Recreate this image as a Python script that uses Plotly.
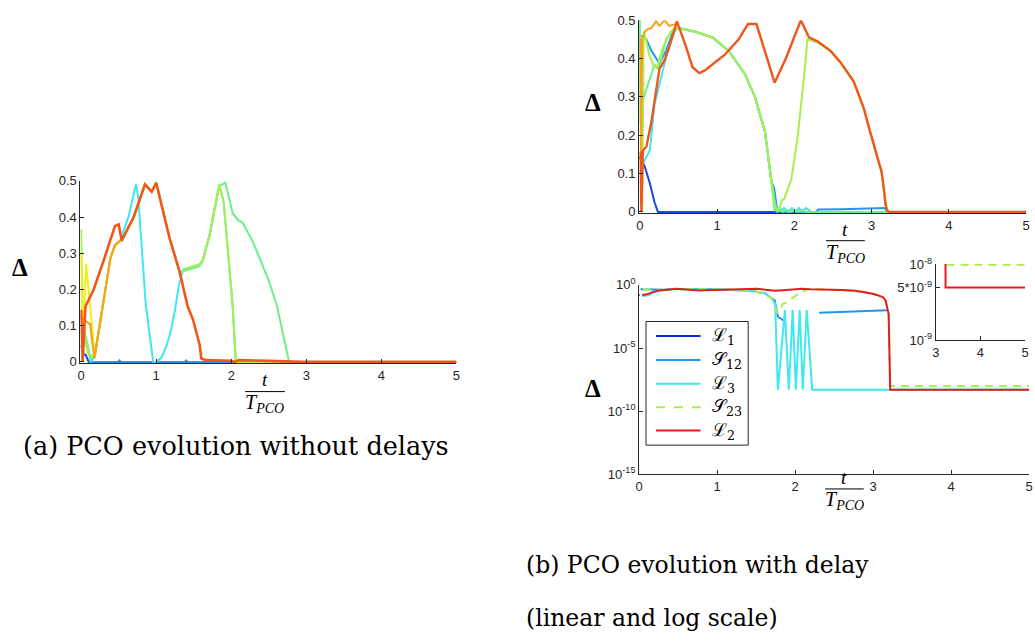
import plotly.graph_objects as go

W, H = 1035, 642

# ---------------- (a) PCO evolution without delays ----------------
a_blue_x = [0, 0.035, 0.06, 0.1, 5]
a_blue_y = [0.046, 0.02, 0.02, 0.0, 0.0]
a_azure_x = [0.1, 0.49, 0.51, 0.53, 1.38, 1.40, 1.42, 2.08, 2.10, 2.12, 5]
a_azure_y = [0.0, 0.0, 0.004, 0.0, 0.0, 0.004, 0.0, 0.0, 0.004, 0.0, 0.0]
a_cyan_x = [0, 0.08, 0.13, 0.18, 0.3, 0.39, 0.45, 0.52, 0.63, 0.7, 0.73, 0.76, 0.8, 0.86, 0.96, 1.0,
            1.07, 1.14, 1.2, 1.25, 1.3, 1.36, 1.44, 1.58, 1.62, 1.71, 1.84, 1.9, 2.02, 2.06, 5]
a_cyan_y = [0.126, 0.046, 0.0, 0.015, 0.17, 0.287, 0.322, 0.335, 0.40, 0.46, 0.49, 0.455, 0.33, 0.16, 0.0, 0.0,
            0.012, 0.046, 0.09, 0.144, 0.21, 0.255, 0.26, 0.27, 0.28, 0.35, 0.49, 0.44, 0.15, 0.0, 0.0]
a_spring_x = [0, 0.05, 0.12, 0.18, 0.3, 0.39, 0.45, 0.52, 0.54, 0.7, 0.85, 0.94, 1.0, 1.18, 1.31, 1.36, 1.44,
              1.58, 1.62, 1.71, 1.84, 1.92, 2.02, 2.1, 2.15, 2.28, 2.41, 2.5, 2.61, 2.7, 2.77, 5]
a_spring_y = [0.13, 0.08, 0.01, 0.015, 0.17, 0.287, 0.322, 0.335, 0.335, 0.4, 0.49, 0.47, 0.497, 0.34, 0.25, 0.25, 0.255,
              0.265, 0.28, 0.35, 0.485, 0.495, 0.41, 0.39, 0.385, 0.335, 0.27, 0.224, 0.153, 0.064, 0.0, 0.0]
a_ygreen_x = [0, 0.02, 0.06, 0.1, 0.18, 0.3, 0.39, 0.45, 0.52, 0.54, 0.7, 0.85, 0.94, 1.0, 1.18, 1.31, 1.36, 1.44,
              1.58, 1.62, 1.71, 1.84, 1.9, 2.02, 2.06, 5]
a_ygreen_y = [0.366, 0.15, 0.05, 0.02, 0.015, 0.17, 0.287, 0.322, 0.335, 0.335, 0.4, 0.49, 0.47, 0.497, 0.34, 0.25, 0.25, 0.26,
              0.27, 0.28, 0.35, 0.49, 0.44, 0.15, 0.0, 0.0]
a_yellow_x = [0, 0.02, 0.066, 0.1, 0.15, 0.18, 0.3, 0.39, 0.45, 0.52]
a_yellow_y = [0.30, 0.035, 0.27, 0.2, 0.09, 0.015, 0.17, 0.287, 0.322, 0.335]
a_orange_x = [0, 0.035, 0.12, 0.176, 0.3, 0.39, 0.45, 0.52, 0.54]
a_orange_y = [0.12, 0.117, 0.104, 0.01, 0.17, 0.287, 0.322, 0.335, 0.335]
a_red_x = [0, 0.02, 0.057, 0.167, 0.3, 0.45, 0.5, 0.54, 0.7, 0.85, 0.94, 1.0, 1.18, 1.31, 1.42, 1.49, 1.58,
           1.6, 1.66, 2.0, 2.05, 2.1, 2.5, 2.94, 5]
a_red_y = [0.144, 0.0, 0.153, 0.2, 0.28, 0.375, 0.38, 0.335, 0.4, 0.49, 0.47, 0.494, 0.34, 0.25, 0.153, 0.117, 0.046,
           0.01, 0.005, 0.003, 0.0, 0.005, 0.003, 0.0, 0.0]

# ---------------- (b) PCO evolution with delay ----------------
L1_x = [0.0, 0.064, 0.128, 0.19, 0.234, 0.26, 5]
L1_y = [0.143, 0.118, 0.076, 0.025, 0.0, 0.0, 0.0]
S12_x = [0.02, 0.085, 0.15, 0.21, 0.255, 0.34, 0.43, 0.5, 0.72, 0.94, 1.15, 1.36, 1.49, 1.62, 1.7, 1.74, 1.78,
         1.86, 1.87, 2.28, 2.31, 2.6, 2.9, 3.18, 3.19, 5]
S12_y = [0.46, 0.45, 0.42, 0.40, 0.387, 0.42, 0.47, 0.48, 0.47, 0.455, 0.42, 0.36, 0.30, 0.21, 0.084, 0.06, 0.003,
         0.0014, 0.0, 0.0, 0.0063, 0.0072, 0.0085, 0.01, 0.0, 0.0]
L3_x = [0.04, 0.13, 0.19, 0.28, 0.36, 0.47, 0.72, 0.94, 1.15, 1.36, 1.49, 1.62, 1.7, 1.745, 1.78, 1.87, 1.92,
        1.97, 2.01, 2.06, 2.10, 2.15, 2.22, 5]
L3_y = [0.126, 0.16, 0.28, 0.354, 0.42, 0.48, 0.47, 0.455, 0.42, 0.36, 0.30, 0.21, 0.084, 0.03, 5e-9, 0.01, 5e-9,
        0.01, 5e-9, 0.01, 5e-9, 0.01, 5e-9, 5e-9]
S23_x = [0.03, 0.05, 0.08, 0.12, 0.17, 0.22, 0.3, 0.4, 0.5, 0.72, 0.94, 1.15, 1.36, 1.49, 1.62, 1.7, 1.745, 1.77,
         1.81, 1.84, 1.87, 1.96, 2.04, 2.13, 2.17, 2.3, 2.47, 2.6, 2.77, 2.9, 2.98, 3.05, 3.13, 3.16, 3.2, 3.22, 5]
S23_y = [0.0, 0.47, 0.45, 0.41, 0.385, 0.375, 0.43, 0.47, 0.48, 0.47, 0.455, 0.42, 0.36, 0.30, 0.21, 0.084, 0.02, 0.0055,
         0.01, 0.03, 0.034, 0.084, 0.19, 0.36, 0.45, 0.442, 0.418, 0.388, 0.338, 0.268, 0.208, 0.158, 0.1, 0.055, 0.008, 1e-8, 1e-8]
L2_x = [0, 0.01, 0.02, 0.04, 0.085, 0.15, 0.21, 0.255, 0.32, 0.38, 0.48, 0.6, 0.68, 0.77, 0.85, 0.98, 1.1, 1.28,
        1.4, 1.51, 1.62, 1.745, 1.89, 2.085, 2.19, 2.3, 2.47, 2.6, 2.77, 2.9, 2.98, 3.05, 3.13, 3.16, 3.18, 3.2, 3.22, 5]
L2_y = [0.156, 0.155, 0.0, 0.16, 0.17, 0.235, 0.315, 0.374, 0.395, 0.43, 0.497, 0.43, 0.378, 0.362, 0.37, 0.39, 0.41, 0.45,
        0.49, 0.49, 0.42, 0.337, 0.4, 0.5, 0.455, 0.445, 0.42, 0.39, 0.34, 0.27, 0.21, 0.16, 0.105, 0.06, 0.02, 0.005, 5e-9, 5e-9]
b_spring_x = [0.0, 0.01, 0.02, 0.1, 0.19, 0.234, 0.28, 0.34, 0.45, 0.72, 0.94, 1.15, 1.36, 1.49, 1.62, 1.7, 1.745,
              1.8, 1.85, 1.9, 1.95, 2.0, 2.05, 2.1, 2.15, 2.2, 5]
b_spring_y = [0.5, 0.23, 0.28, 0.33, 0.384, 0.375, 0.4, 0.45, 0.48, 0.47, 0.455, 0.42, 0.36, 0.30, 0.21, 0.084, 0.004,
              0.005, 0.0, 0.005, 0.0, 0.005, 0.0, 0.005, 0.0, 0.0, 0.0]
b_orange_x = [0.0, 0.012, 0.015, 0.03, 0.064, 0.1, 0.15, 0.21, 0.255, 0.32, 0.38, 0.47, 0.48]
b_orange_y = [0.45, 0.45, 0.15, 0.45, 0.47, 0.476, 0.48, 0.497, 0.485, 0.5, 0.485, 0.49, 0.497]

legend_names = ["ℒ<sub>1</sub>", "𝒮<sub>12</sub>", "ℒ<sub>3</sub>", "𝒮<sub>23</sub>", "ℒ<sub>2</sub>"]

x_ticks = [0, 1, 2, 3, 4, 5]
lin_ticks = [0, 0.1, 0.2, 0.3, 0.4, 0.5]
lin_ticktext = ["0", "0.1", "0.2", "0.3", "0.4", "0.5"]
log_ticks = [1, 1e-5, 1e-10, 1e-15]
log_ticktext = ["10<sup>0</sup>", "10<sup>-5</sup>", "10<sup>-10</sup>", "10<sup>-15</sup>"]
inset_xticks = [3, 4, 5]
inset_yticks = [1e-8, 5e-9, 1e-9]
inset_yticktext = ["10<sup>-8</sup>", "5*10<sup>-9</sup>", "10<sup>-9</sup>"]

C_DBLUE = "#1A4BE6"
C_AZURE = "#1E98F0"
C_CYAN = "#3EE8F0"
C_SPRING = "#6AF08C"
C_YGREEN = "#A8EE4E"
C_YELLOW = "#F2EE1E"
C_ORANGE = "#F7A41A"
C_REDOR = "#F2561A"
C_L1 = "#0A2AE6"
C_L2 = "#E41C1C"
DASH = "8px,6px"


def px(x):
    return x / W


def py(y):
    return 1 - y / H


def logvals(v):
    return [val if val > 0 else None for val in v]


fig = go.Figure()

# (a)
for xs, ys, col, w in [
    (a_blue_x, a_blue_y, C_DBLUE, 2),
    (a_azure_x, a_azure_y, C_AZURE, 2),
    (a_cyan_x, a_cyan_y, C_CYAN, 2),
    (a_spring_x, a_spring_y, C_SPRING, 2),
    (a_ygreen_x, a_ygreen_y, C_YGREEN, 2),
    (a_yellow_x, a_yellow_y, C_YELLOW, 2),
    (a_orange_x, a_orange_y, C_ORANGE, 2.2),
    (a_red_x, a_red_y, C_REDOR, 2.6),
]:
    fig.add_trace(go.Scatter(x=xs, y=ys, mode="lines", line=dict(color=col, width=w),
                             xaxis="x", yaxis="y", showlegend=False, hoverinfo="skip"))

# (b) linear
for xs, ys, col, w in [
    (L1_x, L1_y, C_DBLUE, 2),
    (S12_x, S12_y, C_AZURE, 2),
    (L3_x, L3_y, C_CYAN, 2),
    (b_spring_x, b_spring_y, C_SPRING, 2),
    (S23_x, S23_y, C_YGREEN, 2),
    (b_orange_x, b_orange_y, C_ORANGE, 2),
    (L2_x, L2_y, C_REDOR, 2.4),
]:
    fig.add_trace(go.Scatter(x=xs, y=ys, mode="lines", line=dict(color=col, width=w),
                             xaxis="x2", yaxis="y2", showlegend=False, hoverinfo="skip"))

# (b) log  (L1 is zero almost everywhere, so it does not show on the log axis)
log_series = [
    (S12_x, S12_y, C_AZURE, "solid"),
    (L3_x, L3_y, C_CYAN, "solid"),
    (S23_x, S23_y, C_YGREEN, DASH),
    (L2_x, L2_y, C_L2, "solid"),
]
for xs, ys, col, dash in log_series:
    fig.add_trace(go.Scatter(x=xs, y=logvals(ys), mode="lines",
                             line=dict(color=col, width=2, dash=dash),
                             xaxis="x3", yaxis="y3", showlegend=False, hoverinfo="skip"))

# inset
for xs, ys, col, dash in [(S23_x, S23_y, C_YGREEN, DASH), (L2_x, L2_y, C_L2, "solid")]:
    fig.add_trace(go.Scatter(x=xs, y=logvals(ys), mode="lines",
                             line=dict(color=col, width=2, dash=dash),
                             xaxis="x4", yaxis="y4", showlegend=False, hoverinfo="skip"))

AX = "#262626"
tickfont = dict(family="Liberation Sans, Arial, sans-serif", size=13, color=AX)
common = dict(showline=True, linecolor=AX, linewidth=1, ticks="inside", ticklen=4, tickcolor=AX,
              tickwidth=1, showgrid=False, zeroline=False, mirror=False, tickfont=tickfont, fixedrange=True)

fig.update_layout(
    width=W, height=H, margin=dict(l=0, r=0, t=0, b=0),
    paper_bgcolor="white", plot_bgcolor="rgba(0,0,0,0)", showlegend=False,
    xaxis=dict(domain=[px(77), px(456)], range=[-0.01, 5], tickvals=x_ticks, anchor="y", **common),
    yaxis=dict(domain=[py(364), py(176.5)], range=[-0.004, 0.5], tickvals=lin_ticks, ticktext=lin_ticktext,
               anchor="x", **common),
    xaxis2=dict(domain=[px(640), px(1030)], range=[-0.01, 5], tickvals=x_ticks, anchor="y2", **common),
    yaxis2=dict(domain=[py(210), py(11.5)], range=[-0.004, 0.5], tickvals=lin_ticks, ticktext=lin_ticktext,
                anchor="x2", **common),
    xaxis3=dict(domain=[px(640), px(1033)], range=[0, 5], tickvals=x_ticks, anchor="y3", **common),
    yaxis3=dict(domain=[py(478), py(283)], type="log", range=[-15, 0.03], tickvals=log_ticks,
                ticktext=log_ticktext, anchor="x3", **common),
    xaxis4=dict(domain=[px(939), px(1029)], range=[3, 5], tickvals=inset_xticks, anchor="y4", **common),
    yaxis4=dict(domain=[py(340), py(262)], type="log", range=[-9, -7.99], tickvals=inset_yticks,
                ticktext=inset_yticktext, anchor="x4", **common),
)

serif = "Liberation Serif, DejaVu Serif, serif"
capfont = "DejaVu Serif, Liberation Serif, serif"
annotations = []
shapes = []
# Delta labels
for (cx, cy) in [(16, 266), (594, 96), (594, 390)]:
    annotations.append(dict(x=px(cx), y=py(cy), xref="paper", yref="paper", text="<b>Δ</b>",
                            showarrow=False, font=dict(family=serif, size=25, color="black"),
                            xanchor="center", yanchor="middle"))
# t / T_PCO labels
for (cx, ty, ly, by, half) in [(263, 381, 393, 405, 20), (848, 227, 238, 251, 19.5), (847, 481, 493, 505, 19.5)]:
    annotations.append(dict(x=px(cx), y=py(ty), xref="paper", yref="paper", text="<i>t</i>",
                            showarrow=False, font=dict(family=serif, size=19, color="black"),
                            xanchor="center", yanchor="middle"))
    annotations.append(dict(x=px(cx), y=py(by), xref="paper", yref="paper",
                            text="<i>T<sub>PCO</sub></i>",
                            showarrow=False, font=dict(family=serif, size=20, color="black"),
                            xanchor="center", yanchor="middle"))
    shapes.append(dict(type="line", xref="paper", yref="paper", x0=px(cx - half), x1=px(cx + half),
                       y0=py(ly), y1=py(ly), line=dict(color="black", width=1)))
# captions
for (tx, ty, txt, fs) in [(17, 449, "(a) PCO evolution without delays", 25.5),
                          (524, 571, "(b) PCO evolution with delay", 23.5),
                          (524, 626, "(linear and log scale)", 23.5)]:
    annotations.append(dict(x=px(tx), y=py(ty), xref="paper", yref="paper", text=txt,
                            showarrow=False, font=dict(family=capfont, size=fs, color="black"),
                            xanchor="left", yanchor="middle"))

# legend box for the log panel
shapes.append(dict(type="rect", xref="paper", yref="paper", x0=px(647), x1=px(750), y0=py(448), y1=py(321),
                   line=dict(color=AX, width=1), fillcolor="white", layer="above"))
legend_styles = [(C_L1, "solid"), (C_AZURE, "solid"), (C_CYAN, "solid"), (C_YGREEN, "dash"), (C_L2, "solid")]
legend_rows = [336, 360.5, 385, 409, 433]
for name, (col, dash), ry in zip(legend_names, legend_styles, legend_rows):
    shapes.append(dict(type="line", xref="paper", yref="paper", x0=px(657), x1=px(702), y0=py(ry), y1=py(ry),
                       line=dict(color=col, width=2, dash=dash), layer="above"))
    annotations.append(dict(x=px(712), y=py(ry), xref="paper", yref="paper", text=name, showarrow=False,
                            font=dict(family="DejaVu Serif, serif", size=18, color="black"),
                            xanchor="left", yanchor="middle"))

fig.update_layout(annotations=annotations, shapes=shapes)
fig.write_html("out.html")
